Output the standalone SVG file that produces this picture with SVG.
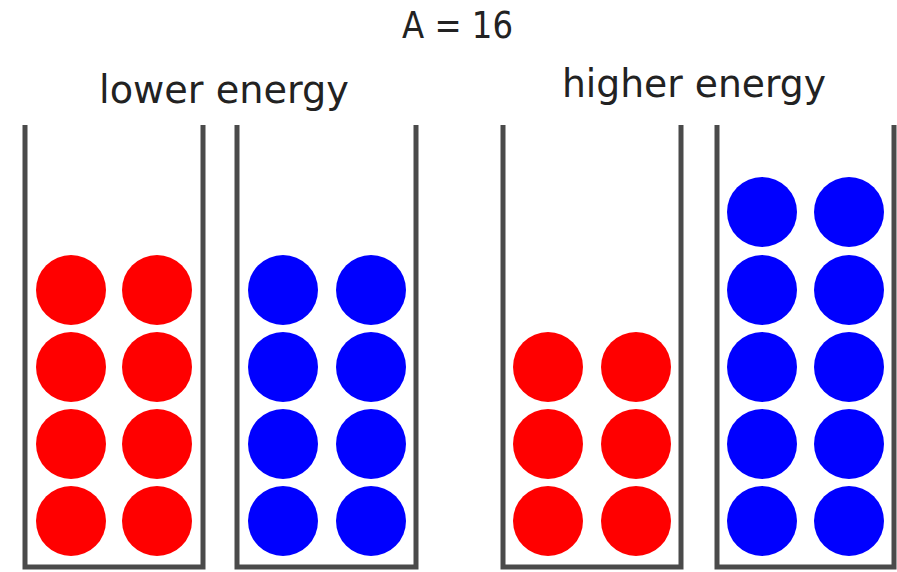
<svg xmlns="http://www.w3.org/2000/svg" width="897" height="572" viewBox="0 0 897 572">
<style>
text{font-family:"DejaVu Sans","Liberation Sans",sans-serif;fill:#222;}
.wall{fill:none;stroke:#4a4a4a;stroke-width:5;stroke-linejoin:miter;}
.r{fill:#ff0000;}
.b{fill:#0000ff;}
</style>
<rect width="897" height="572" fill="#ffffff"/>
<text x="402" y="38" font-size="37" textLength="111" lengthAdjust="spacingAndGlyphs">A = 16</text>
<text x="99" y="103" font-size="39" textLength="250" lengthAdjust="spacingAndGlyphs">lower energy</text>
<text x="562" y="97" font-size="39" textLength="264" lengthAdjust="spacingAndGlyphs">higher energy</text>
<g id="container1">
<path class="wall" d="M25,125 V567 H203 V125"/>
<circle class="r" cx="71" cy="290" r="35"/><circle class="r" cx="157" cy="290" r="35"/>
<circle class="r" cx="71" cy="367" r="35"/><circle class="r" cx="157" cy="367" r="35"/>
<circle class="r" cx="71" cy="444" r="35"/><circle class="r" cx="157" cy="444" r="35"/>
<circle class="r" cx="71" cy="521" r="35"/><circle class="r" cx="157" cy="521" r="35"/>
</g>
<g id="container2">
<path class="wall" d="M237,125 V567 H416 V125"/>
<circle class="b" cx="283" cy="290" r="35"/><circle class="b" cx="371" cy="290" r="35"/>
<circle class="b" cx="283" cy="367" r="35"/><circle class="b" cx="371" cy="367" r="35"/>
<circle class="b" cx="283" cy="444" r="35"/><circle class="b" cx="371" cy="444" r="35"/>
<circle class="b" cx="283" cy="521" r="35"/><circle class="b" cx="371" cy="521" r="35"/>
</g>
<g id="container3">
<path class="wall" d="M503,125 V567 H681 V125"/>
<circle class="r" cx="548" cy="367" r="35"/><circle class="r" cx="636" cy="367" r="35"/>
<circle class="r" cx="548" cy="444" r="35"/><circle class="r" cx="636" cy="444" r="35"/>
<circle class="r" cx="548" cy="521" r="35"/><circle class="r" cx="636" cy="521" r="35"/>
</g>
<g id="container4">
<path class="wall" d="M717,125 V567 H894 V125"/>
<circle class="b" cx="762" cy="212" r="35"/><circle class="b" cx="849" cy="212" r="35"/>
<circle class="b" cx="762" cy="290" r="35"/><circle class="b" cx="849" cy="290" r="35"/>
<circle class="b" cx="762" cy="367" r="35"/><circle class="b" cx="849" cy="367" r="35"/>
<circle class="b" cx="762" cy="444" r="35"/><circle class="b" cx="849" cy="444" r="35"/>
<circle class="b" cx="762" cy="521" r="35"/><circle class="b" cx="849" cy="521" r="35"/>
</g>
</svg>
